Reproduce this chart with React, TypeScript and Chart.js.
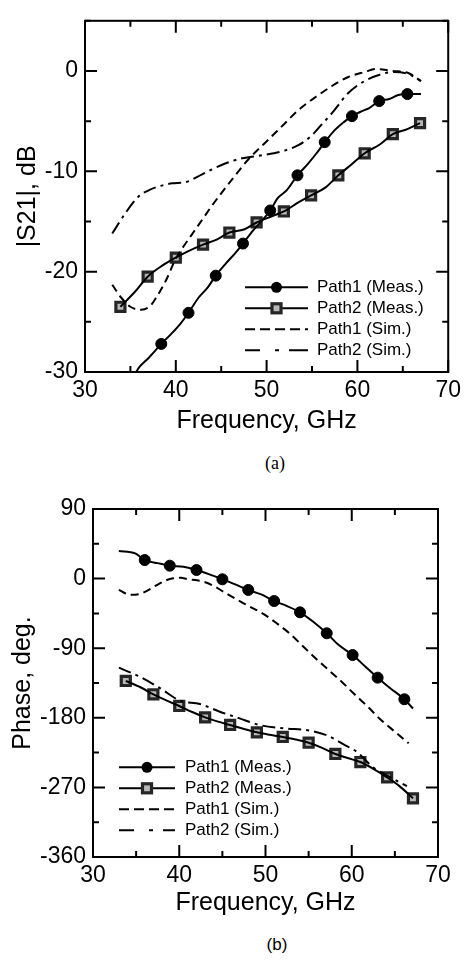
import React, { useEffect, useRef } from "react";
import { Chart, registerables } from "chart.js";

Chart.register(...registerables);

const SANS = "'Liberation Sans', Arial, sans-serif";

// ---------- shared axis data ----------
const X_MIN = 30;
const X_MAX = 70;
const X_STEP = 5;
const X_LABEL_EVERY = 10;
const X_TITLE = "Frequency, GHz";

// ---------- (a) |S21| ----------
const A_Y_MIN = -30;
const A_Y_MAX = 5;
const A_Y_STEP = 5;
const A_Y_LABEL_EVERY = 10;
const A_Y_TITLE = "|S21|, dB";

const A_P1_MEAS_X = [35.3, 36.0, 37.0, 38.4, 39.5, 40.5, 41.4, 42.5, 43.5, 44.4, 45.5, 46.5, 47.4, 48.5, 49.5, 50.4, 51.2, 52.2, 53.4, 54.5, 55.5, 56.4, 57.5, 58.5, 59.4, 60.5, 61.3, 62.4, 63.5, 64.5, 65.5, 67.0];
const A_P1_MEAS_Y = [-30.5, -29.5, -28.6, -27.2, -26.2, -25.2, -24.1, -22.6, -21.6, -20.4, -19.2, -18.2, -17.2, -15.9, -14.9, -13.9, -12.7, -11.9, -10.4, -9.3, -8.2, -7.1, -5.9, -5.1, -4.5, -4.0, -3.7, -3.0, -2.8, -2.4, -2.3, -2.3];
const A_P1_MARK_X = [38.4, 41.4, 44.4, 47.4, 50.4, 53.4, 56.4, 59.4, 62.4, 65.5];
const A_P1_MARK_Y = [-27.2, -24.1, -20.4, -17.2, -13.9, -10.4, -7.1, -4.5, -3.0, -2.3];

const A_P2_MEAS_X = [33.9, 35.5, 36.9, 38.5, 40.0, 41.5, 43.0, 44.5, 45.9, 47.5, 48.9, 50.5, 51.9, 53.5, 54.9, 56.5, 57.9, 59.5, 60.8, 62.5, 63.9, 65.5, 66.9];
const A_P2_MEAS_Y = [-23.5, -22.0, -20.5, -19.4, -18.6, -17.9, -17.3, -16.8, -16.1, -15.8, -15.1, -14.5, -14.0, -13.1, -12.4, -11.6, -10.4, -9.2, -8.2, -7.3, -6.3, -5.8, -5.2];
const A_P2_MARK_X = [33.9, 36.9, 40.0, 43.0, 45.9, 48.9, 51.9, 54.9, 57.9, 60.8, 63.9, 66.9];
const A_P2_MARK_Y = [-23.5, -20.5, -18.6, -17.3, -16.1, -15.1, -14.0, -12.4, -10.4, -8.2, -6.3, -5.2];

const A_P1_SIM_X = [33.0, 34.0, 35.0, 36.2, 37.2, 37.9, 38.9, 40.0, 41.0, 42.0, 43.0, 44.0, 45.0, 46.2, 48.0, 49.9, 51.7, 53.5, 55.4, 57.2, 59.0, 60.8, 62.1, 63.8, 65.6, 67.0];
const A_P1_SIM_Y = [-21.3, -22.6, -23.5, -23.8, -23.4, -22.5, -20.9, -18.7, -17.3, -16.0, -14.7, -13.4, -12.2, -10.8, -8.8, -7.1, -5.5, -3.9, -2.6, -1.5, -0.6, -0.1, 0.2, 0.0, -0.2, -1.0];

const A_P2_SIM_X = [33.0, 34.5, 35.9, 37.0, 37.8, 39.6, 41.0, 42.9, 44.0, 45.5, 47.3, 49.5, 51.7, 53.5, 55.0, 56.1, 57.2, 59.0, 60.8, 62.7, 64.0, 65.6, 67.0];
const A_P2_SIM_Y = [-16.2, -14.1, -12.5, -11.9, -11.6, -11.2, -11.1, -10.3, -9.8, -9.2, -8.7, -8.4, -8.0, -7.4, -6.4, -5.3, -4.2, -2.2, -1.0, -0.3, -0.1, -0.3, -1.0];

// ---------- (b) Phase ----------
const B_Y_MIN = -360;
const B_Y_MAX = 90;
const B_Y_STEP = 45;
const B_Y_LABEL_EVERY = 90;
const B_Y_TITLE = "Phase, deg.";

const B_P1_MEAS_X = [33.0, 34.9, 36.0, 37.5, 38.9, 40.5, 42.0, 43.5, 45.0, 46.5, 48.0, 49.5, 51.0, 52.5, 54.0, 55.5, 57.1, 58.5, 60.1, 61.5, 63.0, 64.5, 66.1, 67.1];
const B_P1_MEAS_Y = [35.7, 32.7, 24.0, 20.0, 16.7, 15.4, 11.1, 5.5, -0.9, -7.5, -14.7, -20.5, -29.0, -35.5, -43.6, -55.5, -70.7, -86.0, -98.8, -113.0, -128.1, -142.0, -156.0, -168.0];
const B_P1_MARK_X = [36.0, 38.9, 42.0, 45.0, 48.0, 51.0, 54.0, 57.1, 60.1, 63.0, 66.1];
const B_P1_MARK_Y = [24.0, 16.7, 11.1, -0.9, -14.7, -29.0, -43.6, -70.7, -98.8, -128.1, -156.0];

const B_P2_MEAS_X = [33.8, 35.5, 37.0, 38.5, 40.0, 41.5, 43.0, 44.5, 45.9, 47.5, 49.0, 50.5, 52.0, 53.5, 55.0, 56.5, 58.1, 59.5, 61.0, 62.5, 64.1, 65.5, 67.1];
const B_P2_MEAS_Y = [-132.4, -140.5, -149.6, -157.5, -164.7, -172.5, -179.4, -185.0, -189.3, -194.5, -198.8, -202.0, -204.8, -208.0, -212.2, -218.5, -226.8, -232.0, -237.2, -246.0, -257.0, -268.0, -284.1];
const B_P2_MARK_X = [33.8, 37.0, 40.0, 43.0, 45.9, 49.0, 52.0, 55.0, 58.1, 61.0, 64.1, 67.1];
const B_P2_MARK_Y = [-132.4, -149.6, -164.7, -179.4, -189.3, -198.8, -204.8, -212.2, -226.8, -237.2, -257.0, -284.1];

const B_P1_SIM_X = [33.0, 34.3, 35.4, 36.4, 37.4, 38.4, 39.3, 40.2, 40.9, 42.8, 44.0, 45.1, 46.5, 48.2, 49.8, 51.3, 52.8, 54.4, 55.8, 57.3, 58.8, 60.2, 61.8, 63.3, 65.0, 66.6];
const B_P1_SIM_Y = [-14.5, -21.0, -20.0, -15.0, -8.3, -2.5, 0.4, 1.0, -0.5, -4.0, -9.5, -16.9, -26.0, -36.3, -46.0, -57.8, -71.0, -88.1, -103.0, -118.0, -133.0, -148.3, -165.0, -181.9, -198.0, -213.0];

const B_P2_SIM_X = [33.0, 35.4, 37.8, 40.1, 42.4, 44.7, 47.0, 49.3, 52.1, 55.2, 57.3, 59.2, 60.6, 62.5, 64.5, 66.4];
const B_P2_SIM_Y = [-115.2, -126.8, -141.9, -157.9, -162.2, -172.1, -180.7, -189.3, -193.6, -196.7, -203.5, -215.2, -224.1, -244.4, -257.0, -268.5];

// ---------- legend ----------
const LEGEND_LABELS = ["Path1 (Meas.)", "Path2 (Meas.)", "Path1 (Sim.)", "Path2 (Sim.)"];

// ---------- styles ----------
const SIM1_DASH = [8, 5];
const SIM2_DASH = [13, 5, 3, 5];
const LEG_SIM1_DASH = [10, 5];
const LEG_SIM2_DASH = [15, 15, 4, 10, 20];
const CIRCLE_R = 5.5;
const SQUARE_R = 6.4;
const SQ_FILL = "#b8b8b8";
const SQ_EDGE = "#262626";
const SQ_EDGE_W = 3.2;

const pts = (xs: number[], ys: number[]) => xs.map((x, i) => ({ x, y: ys[i] }));

function lineDs(xs: number[], ys: number[], dash: number[] = []) {
  return {
    data: pts(xs, ys),
    showLine: true,
    borderColor: "#000",
    borderWidth: 2,
    borderDash: dash,
    pointRadius: 0,
    pointHoverRadius: 0,
    cubicInterpolationMode: "monotone" as const,
    fill: false,
    clip: 0,
  };
}

function circleDs(xs: number[], ys: number[]) {
  return {
    data: pts(xs, ys),
    showLine: false,
    pointStyle: "circle",
    pointRadius: CIRCLE_R,
    pointBackgroundColor: "#000",
    pointBorderColor: "#000",
    pointBorderWidth: 1,
  };
}

function squareDs(xs: number[], ys: number[]) {
  return {
    data: pts(xs, ys),
    showLine: false,
    pointStyle: "rect",
    pointRadius: SQUARE_R,
    pointBackgroundColor: SQ_FILL,
    pointBorderColor: SQ_EDGE,
    pointBorderWidth: SQ_EDGE_W,
  };
}

const framePlugin = {
  id: "frame",
  afterDatasetsDraw(chart: any, _args: any, opts: any) {
    const { ctx, chartArea: a, scales } = chart;
    const xs = scales.x;
    const ys = scales.y;
    ctx.save();
    ctx.strokeStyle = "#000";
    ctx.lineWidth = 2;
    ctx.beginPath();
    xs.ticks.forEach((t: any) => {
      const px = xs.getPixelForValue(t.value);
      const len = Math.abs(t.value % opts.xMajor) < 1e-9 ? opts.major : opts.minor;
      ctx.moveTo(px, a.bottom);
      ctx.lineTo(px, a.bottom - len);
      ctx.moveTo(px, a.top);
      ctx.lineTo(px, a.top + len);
    });
    ys.ticks.forEach((t: any) => {
      const py = ys.getPixelForValue(t.value);
      const len = Math.abs(t.value % opts.yMajor) < 1e-9 ? opts.major : opts.minor;
      ctx.moveTo(a.left, py);
      ctx.lineTo(a.left + len, py);
      ctx.moveTo(a.right, py);
      ctx.lineTo(a.right - len, py);
    });
    ctx.stroke();
    ctx.strokeRect(a.left, a.top, a.right - a.left, a.bottom - a.top);

    // legend
    const L = opts.legend;
    const x0 = a.left + L.dx;
    const y0 = a.top + L.dy;
    ctx.font = `${L.fontSize}px ${SANS}`;
    ctx.textBaseline = "middle";
    ctx.textAlign = "left";
    LEGEND_LABELS.forEach((label: string, i: number) => {
      const y = y0 + i * L.rowGap;
      ctx.save();
      ctx.lineWidth = 2;
      ctx.strokeStyle = "#000";
      ctx.setLineDash(i === 2 ? LEG_SIM1_DASH : i === 3 ? LEG_SIM2_DASH : []);
      ctx.beginPath();
      ctx.moveTo(x0, y);
      ctx.lineTo(x0 + L.lineLen, y);
      ctx.stroke();
      ctx.restore();
      const mx = x0 + L.lineLen / 2;
      if (i === 0) {
        ctx.beginPath();
        ctx.fillStyle = "#000";
        ctx.arc(mx, y, CIRCLE_R, 0, Math.PI * 2);
        ctx.fill();
      } else if (i === 1) {
        const s = SQUARE_R * Math.SQRT1_2;
        ctx.fillStyle = SQ_FILL;
        ctx.fillRect(mx - s, y - s, 2 * s, 2 * s);
        ctx.lineWidth = SQ_EDGE_W;
        ctx.strokeStyle = SQ_EDGE;
        ctx.strokeRect(mx - s, y - s, 2 * s, 2 * s);
      }
      ctx.fillStyle = "#000";
      ctx.fillText(label, x0 + L.lineLen + L.textGap, y);
    });
    ctx.restore();
  },
};

function makeConfig(p: any) {
  return {
    type: "scatter" as const,
    data: { datasets: p.datasets },
    options: {
      animation: false,
      responsive: false,
      maintainAspectRatio: false,
      events: [],
      layout: { padding: p.padding },
      plugins: {
        legend: { display: false },
        tooltip: { enabled: false },
        frame: { xMajor: X_LABEL_EVERY, yMajor: p.yLabelEvery, major: 12, minor: 6, legend: p.legend },
      },
      scales: {
        x: {
          type: "linear",
          min: X_MIN,
          max: X_MAX,
          grid: { display: false, drawTicks: false },
          border: { display: false },
          ticks: {
            stepSize: X_STEP,
            autoSkip: false,
            maxRotation: 0,
            padding: 5,
            color: "#000",
            font: { family: SANS, size: 23 },
            callback: (v: number) => (v % X_LABEL_EVERY === 0 ? String(v) : ""),
          },
          title: {
            display: true,
            text: X_TITLE,
            color: "#000",
            font: { family: SANS, size: 25 },
            padding: { top: 0, bottom: 4 },
          },
          afterFit: (s: any) => {
            s.height = p.xHeight;
          },
        },
        y: {
          type: "linear",
          min: p.yMin,
          max: p.yMax,
          grid: { display: false, drawTicks: false },
          border: { display: false },
          ticks: {
            stepSize: p.yStep,
            autoSkip: false,
            padding: 7,
            color: "#000",
            font: { family: SANS, size: 23 },
            callback: (v: number) => (v % p.yLabelEvery === 0 && v <= p.yLabelMax ? String(v) : ""),
          },
          title: {
            display: true,
            text: p.yTitle,
            color: "#000",
            font: { family: SANS, size: 25 },
            padding: { top: p.yTitlePad, bottom: 0 },
          },
          afterFit: (s: any) => {
            s.width = p.yWidth;
          },
        },
      },
    },
    plugins: [framePlugin],
  };
}

function ChartCanvas({ config, width, height, top }: any) {
  const ref = useRef<HTMLCanvasElement | null>(null);
  useEffect(() => {
    if (!ref.current) return;
    const chart = new Chart(ref.current, config as any);
    return () => chart.destroy();
  }, []);
  return (
    <canvas
      ref={ref}
      width={width}
      height={height}
      style={{ position: "absolute", left: 0, top, width, height }}
    />
  );
}

const configA = makeConfig({
  datasets: [
    lineDs(A_P1_SIM_X, A_P1_SIM_Y, SIM1_DASH),
    lineDs(A_P2_SIM_X, A_P2_SIM_Y, SIM2_DASH),
    lineDs(A_P1_MEAS_X, A_P1_MEAS_Y),
    lineDs(A_P2_MEAS_X, A_P2_MEAS_Y),
    circleDs(A_P1_MARK_X, A_P1_MARK_Y),
    squareDs(A_P2_MARK_X, A_P2_MARK_Y),
  ],
  padding: { left: 0, top: 7, right: 16, bottom: 0 },
  xHeight: 68,
  yWidth: 85,
  yMin: A_Y_MIN,
  yMax: A_Y_MAX,
  yStep: A_Y_STEP,
  yLabelEvery: A_Y_LABEL_EVERY,
  yLabelMax: 0,
  yTitle: A_Y_TITLE,
  yTitlePad: 13,
  legend: { dx: 160, dy: 266.5, rowGap: 21, lineLen: 63, textGap: 9, fontSize: 17 },
});

const configB = makeConfig({
  datasets: [
    lineDs(B_P1_SIM_X, B_P1_SIM_Y, SIM1_DASH),
    lineDs(B_P2_SIM_X, B_P2_SIM_Y, SIM2_DASH),
    lineDs(B_P1_MEAS_X, B_P1_MEAS_Y),
    lineDs(B_P2_MEAS_X, B_P2_MEAS_Y),
    circleDs(B_P1_MARK_X, B_P1_MARK_Y),
    squareDs(B_P2_MARK_X, B_P2_MARK_Y),
  ],
  padding: { left: 0, top: 29, right: 28, bottom: 0 },
  xHeight: 65,
  yWidth: 93,
  yMin: B_Y_MIN,
  yMax: B_Y_MAX,
  yStep: B_Y_STEP,
  yLabelEvery: B_Y_LABEL_EVERY,
  yLabelMax: 90,
  yTitle: B_Y_TITLE,
  yTitlePad: 8,
  legend: { dx: 26, dy: 258.3, rowGap: 21, lineLen: 56, textGap: 10, fontSize: 17 },
});

export default function App() {
  return (
    <div style={{ position: "absolute", left: 0, top: 0, width: 466, height: 966, background: "#fff" }}>
      <ChartCanvas config={configA} width={466} height={440} top={0} />
      <div
        style={{
          position: "absolute",
          left: 0,
          width: 550,
          top: 452,
          textAlign: "center",
          fontFamily: "'Liberation Serif', 'Times New Roman', serif",
          fontSize: 18,
          lineHeight: "22px",
          color: "#000",
        }}
      >
        (a)
      </div>
      <ChartCanvas config={configB} width={466} height={442} top={480} />
      <div
        style={{
          position: "absolute",
          left: 0,
          width: 554,
          top: 934,
          textAlign: "center",
          fontFamily: SANS,
          fontSize: 17,
          lineHeight: "22px",
          color: "#000",
        }}
      >
        (b)
      </div>
    </div>
  );
}
